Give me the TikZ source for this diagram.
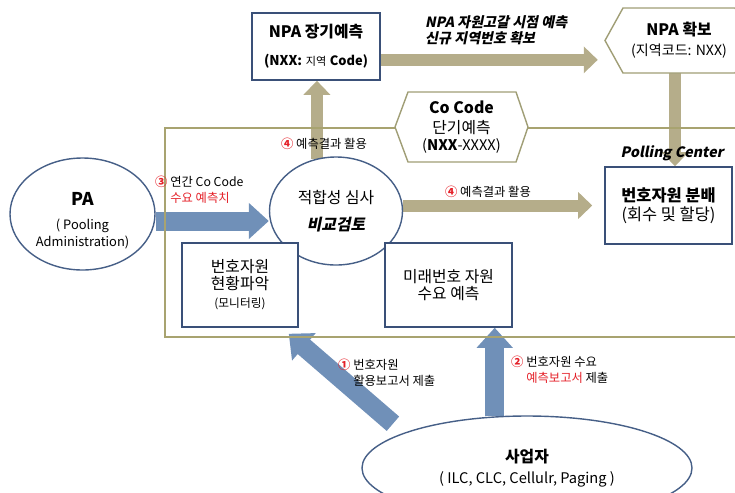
\documentclass[tikz,border=0pt]{standalone}
\usepackage{fontspec}
\setmainfont{Noto Sans CJK KR}
\newfontfamily\slantkr[FakeSlant=0.2]{Noto Sans CJK KR}
\usetikzlibrary{arrows.meta,shapes.geometric,backgrounds}
\definecolor{tanfill}{RGB}{181,173,138}
\definecolor{bluefill}{RGB}{112,144,184}
\definecolor{boxline}{RGB}{58,80,120}
\definecolor{ovalline}{RGB}{70,95,135}
\definecolor{frameline}{RGB}{168,163,112}
\definecolor{hexdraw}{RGB}{160,158,118}
\definecolor{numred}{RGB}{228,32,40}
\newcommand{\numc}[1]{\textcolor{numred}{#1}}
\newcommand{\boxfont}{\fontsize{13.5}{16}\selectfont}
\newcommand{\subfont}{\fontsize{12}{14}\selectfont}
\newcommand{\notefont}{\fontsize{10.5}{14}\selectfont}
\begin{document}
\begin{tikzpicture}[x=0.03cm,y=-0.03cm,
  box/.style={draw=boxline, line width=1.3pt, fill=white, align=center, inner sep=1pt},
  oval/.style={ellipse, draw=ovalline, line width=1.2pt, fill=white, align=center, inner sep=0pt},
  hexline/.style={draw=hexdraw, line width=1.2pt, fill=white},
  hextext/.style={align=center, inner sep=0pt},
  note/.style={align=left, inner sep=0pt, font=\notefont},
  tanarrow/.style={draw=tanfill, line width=0.36cm, -{Triangle[length=0.42cm, width=0.78cm]}},
  bluearrow/.style={draw=bluefill, line width=0.57cm, -{Triangle[length=0.6cm, width=1.05cm]}}]
\useasboundingbox (0,0) rectangle (735,492);
\clip (0,0) rectangle (735,492);

\draw[draw=frameline, line width=1.2pt] (745,128) -- (165,128) -- (165,337) -- (745,337);
\draw[hexline] (605,40.5) -- (623,8) -- (735,8) -- (753,40.5) -- (735,73) -- (623,73) -- cycle;
\draw[hexline] (395,127) -- (408,92) -- (516,92) -- (528,127) -- (516,162) -- (408,162) -- cycle;

\node[box, minimum width=3.84cm, minimum height=2.01cm, font=\fontsize{13.5}{16}\selectfont\bfseries] (npa) at (316,46.5) {NPA 장기예측\\[8pt]{\fontsize{11.5}{13}\selectfont (NXX:} {\mdseries\fontsize{9.5}{13}\selectfont 지역} {\fontsize{11}{13}\selectfont Code)}};
\node[hextext, minimum width=4.44cm, minimum height=1.95cm, font=\fontsize{13.5}{16}\selectfont\bfseries] (npaget) at (679,40.5) {NPA 확보\\[1pt]{\subfont\mdseries (지역코드: NXX)}};
\node[hextext, minimum width=3.99cm, minimum height=2.1cm, font=\boxfont] (cocode) at (461.5,127) {\textbf{Co Code}\\[1pt]단기예측\\[-2pt]{\fontsize{12.5}{14}\selectfont(\textbf{NXX}-XXXX)}};
\node[oval, minimum width=4.35cm, minimum height=3.36cm, font=\fontsize{11}{14.5}\selectfont] (pa) at (82.5,214) {\rule{0pt}{22pt}{\fontsize{15}{18}\selectfont\bfseries PA}\\[6pt]( Pooling\\Administration)};
\node[oval, minimum width=3.99cm, minimum height=3.24cm, font=\boxfont] (judge) at (336,211) {적합성 심사\\[7pt]{\slantkr\bfseries 비교검토}};
\node[box, minimum width=3.81cm, minimum height=2.31cm, font=\fontsize{14}{16}\selectfont] (alloc) at (668.5,205.5) {\textbf{번호자원 분배}\\[0pt](회수 및 할당)};
\node[box, minimum width=3.48cm, minimum height=2.52cm, font=\boxfont] (mon) at (240,285) {번호자원\\[-2pt]현황파악\\[0pt]{\fontsize{10}{12}\selectfont (모니터링)}};
\node[box, minimum width=3.81cm, minimum height=2.52cm, font=\boxfont] (fut) at (448.5,285) {미래번호 자원\\[-1pt]수요 예측};
\node[oval, minimum width=9.9cm, minimum height=3.12cm, font=\fontsize{12.5}{15}\selectfont] (biz) at (527,468) {{\fontsize{13.5}{16}\selectfont\bfseries 사업자}\\[3pt]( ILC, CLC, Cellulr, Paging )};

\node[font=\fontsize{12}{13.5}\selectfont\slantkr\bfseries, align=left, anchor=west, inner sep=0pt] (plan) at (425,30) {NPA 자원고갈 시점 예측\\신규 지역번호 확보};
\node[note] (use4a) at (324,144) {\numc{\textbf{④}} 예측결과 활용};
\node[note] (use4b) at (488,192) {\numc{\textbf{④}} 예측결과 활용};
\node[note, anchor=west] (demand3) at (155,190) {\numc{\textbf{③}} 연간 Co Code\\\hphantom{③ }\numc{수요 예측치}};
\node[font=\fontsize{12.2}{14}\selectfont\slantkr\bfseries, inner sep=0pt] (pollc) at (672,153) {Polling Center};
\node[note, anchor=west] (rep1) at (338,373) {\numc{\textbf{①}} 번호자원\\\hphantom{① }활용보고서 제출};
\node[note, anchor=west] (rep2) at (511,370) {\numc{\textbf{②}} 번호자원 수요\\\hphantom{② }\numc{예측보고서} 제출};

\begin{scope}[on background layer]
\draw[tanarrow] (judge.110) -- (judge.110 |- npa.south);
\draw[tanarrow, shorten >=0.21cm] ([yshift=-0.4cm]npa.east) -- ([yshift=-0.4cm]npa.east -| npaget.west);
\draw[tanarrow] ([xshift=-0.12cm]npaget.south) -- ([xshift=-0.12cm]npaget.south |- alloc.north);
\draw[tanarrow] (judge.east |- alloc.west) -- ([xshift=-0.36cm]alloc.west);
\draw[bluearrow] ([yshift=-0.21cm]pa.east) -- ([yshift=-0.21cm]pa.east -| judge.west);
\draw[bluearrow] (biz.122) -- (biz.122 |- fut.south);
\draw[bluearrow] ([xshift=-0.33cm,yshift=0.27cm]biz.164) -- ([xshift=-0.3cm,yshift=-0.18cm]mon.south east);
\end{scope}
\end{tikzpicture}
\end{document}
